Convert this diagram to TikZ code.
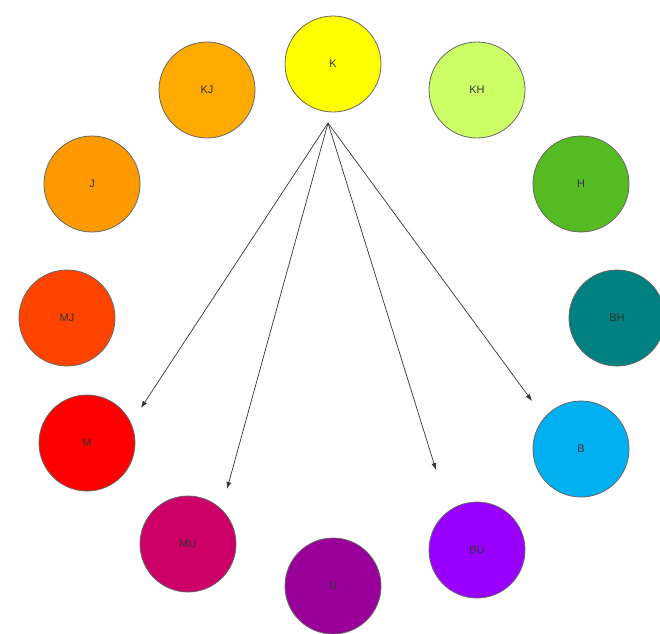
\documentclass[tikz,border=0pt]{standalone}
\usepackage{fontspec}
\setmainfont{Liberation Sans}
\usetikzlibrary{arrows.meta}
\definecolor{cK}{HTML}{FFFF00}
\definecolor{cKH}{HTML}{CCFF66}
\definecolor{cH}{HTML}{55BB22}
\definecolor{cBH}{HTML}{008080}
\definecolor{cB}{HTML}{00B0F0}
\definecolor{cBU}{HTML}{9900FF}
\definecolor{cU}{HTML}{990099}
\definecolor{cMU}{HTML}{CC0066}
\definecolor{cM}{HTML}{FF0000}
\definecolor{cMJ}{HTML}{FF4400}
\definecolor{cJ}{HTML}{FF9900}
\definecolor{cKJ}{HTML}{FFAA00}
\begin{document}
\begin{tikzpicture}[x=1pt,y=-1pt,
  ball/.style={circle,draw=black!60,line width=0.8pt,minimum size=96pt,inner sep=0pt,
    font=\fontsize{11}{13}\selectfont,text=black!80},
  arr/.style={draw=black!80,line width=0.7pt,-{Latex[length=7pt,width=5pt]}}]
\useasboundingbox (0,0) rectangle (660,633);
\node[ball,fill=cK]  (K)  at (333,64)  {K};
\node[ball,fill=cKH] (KH) at (477,90)  {KH};
\node[ball,fill=cH]  (H)  at (581,184) {H};
\node[ball,fill=cBH] (BH) at (617,318) {BH};
\node[ball,fill=cB]  (B)  at (581,449) {B};
\node[ball,fill=cBU] (BU) at (477,550) {BU};
\node[ball,fill=cU]  (U)  at (333,586) {U};
\node[ball,fill=cMU] (MU) at (188,544) {MU};
\node[ball,fill=cM]  (M)  at (87,443)  {M};
\node[ball,fill=cMJ] (MJ) at (67,318)  {MJ};
\node[ball,fill=cJ]  (J)  at (92,184)  {J};
\node[ball,fill=cKJ] (KJ) at (207,90)  {KJ};
\coordinate (src) at (328,123);
\coordinate (tM)  at (141,408);
\coordinate (tMU) at (227,489);
\coordinate (tBU) at (436,470);
\coordinate (tB)  at (532,401);
\draw[arr] (src) -- (tM);
\draw[arr] (src) -- (tMU);
\draw[arr] (src) -- (tBU);
\draw[arr] (src) -- (tB);
\end{tikzpicture}
\end{document}
